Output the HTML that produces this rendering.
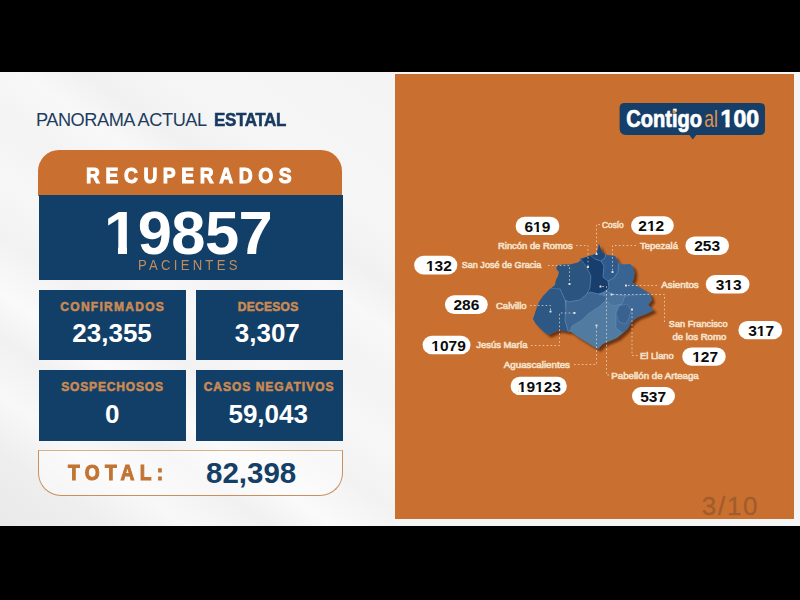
<!DOCTYPE html>
<html lang="es">
<head>
<meta charset="utf-8">
<title>Panorama Actual Estatal</title>
<style>
html,body{margin:0;padding:0;}
body{width:800px;height:600px;overflow:hidden;background:#000;position:relative;font-family:"Liberation Sans",sans-serif;}
.t{position:absolute;white-space:nowrap;line-height:1;}
#stage{position:absolute;left:0;top:72px;width:800px;height:453.5px;background:#f5f5f5;overflow:hidden;}
#streak1{position:absolute;left:0;top:0;width:395px;height:454px;
 background:linear-gradient(215deg,#f4f4f4 0%,#f6f6f6 22%,#f1f1f1 30%,#f8f8f8 36%,#f3f3f3 44%,#f7f7f7 52%,#f2f2f2 60%,#fafafa 68%,#f1f1f1 74%,#f8f8f8 82%,#eeeeee 90%,#e9e9e9 100%);}
#orange{position:absolute;left:395.3px;top:2px;width:399px;height:445px;background:#c97030;}
/* left card */
#hdr{position:absolute;left:38.3px;top:78.1px;width:304.2px;height:46px;background:#c97030;border-radius:21px 21px 0 0;}
.blue{position:absolute;background:#123f68;}
.cx{transform-origin:0 0;}
.lab{color:#cb8a52;font-weight:bold;font-size:12px;-webkit-text-stroke:0.55px #cb8a52;}
.num{color:#fff;font-weight:bold;font-size:26px;text-align:center;}
#total{position:absolute;left:37.6px;top:377.6px;width:303.4px;height:44px;background:rgba(255,255,255,0.45);border:1px solid #c9905f;border-top-color:#d9b08a;border-radius:0 0 23px 23px;box-sizing:content-box;}
</style>
</head>
<body>
<div id="stage">
  <div id="streak1"></div>
  <div id="orange"></div>

  <!-- title -->
  <div class="t" id="ttl" style="left:35.9px;top:39px;font-size:18.2px;color:#1d3d5f;letter-spacing:-0.45px;">PANORAMA ACTUAL</div>
  <div class="t cx" id="ttl2" style="left:214px;top:39px;font-size:18.2px;font-weight:bold;color:#183a5e;letter-spacing:-0.4px;transform:scaleX(0.935);-webkit-text-stroke:0.55px #183a5e;">ESTATAL</div>

  <!-- card -->
  <div id="hdr"></div>
  <div class="t cx" id="recu" style="left:85.9px;top:93.8px;font-size:21.4px;font-weight:bold;color:#fff;letter-spacing:6.2px;transform:scaleX(0.9);-webkit-text-stroke:1px #fff;">RECUPERADOS</div>

  <div class="blue" style="left:38.5px;top:123px;width:304px;height:85px;"></div>
  <div class="t" id="big" style="left:37.6px;width:301px;text-align:center;top:129.5px;font-size:61.5px;letter-spacing:-0.6px;font-weight:bold;color:#fff;">19857</div>
  <div class="blue" style="left:106.6px;top:174.4px;width:11.5px;height:8.6px;"></div>
  <div class="blue" style="left:127.1px;top:174.4px;width:10.8px;height:8.6px;"></div>
  <div class="t cx" id="pac" style="left:138px;top:186px;font-size:14.6px;color:#c48c5c;letter-spacing:3.6px;transform:scaleX(0.9);">PACIENTES</div>

  <div class="blue" style="left:38.5px;top:217.5px;width:147.5px;height:70.5px;"></div>
  <div class="blue" style="left:195.5px;top:217.5px;width:147px;height:70.5px;"></div>
  <div class="blue" style="left:38.5px;top:298px;width:147.5px;height:70.5px;"></div>
  <div class="blue" style="left:195.5px;top:298px;width:147px;height:70.5px;"></div>

  <div class="t lab cx" id="l1" style="left:60.3px;top:228.9px;letter-spacing:1.29px;">CONFIRMADOS</div>
  <div class="t num" id="n1" style="left:38.3px;width:147.5px;top:248px;">23,355</div>
  <div class="t lab cx" id="l2" style="left:237.7px;top:228.9px;letter-spacing:0.3px;">DECESOS</div>
  <div class="t num" id="n2" style="left:193.8px;width:147px;top:248px;">3,307</div>
  <div class="t lab cx" id="l3" style="left:61.2px;top:308.9px;letter-spacing:0.84px;">SOSPECHOSOS</div>
  <div class="t num" id="n3" style="left:38.5px;width:147.5px;top:329px;">0</div>
  <div class="t lab cx" id="l4" style="left:203.7px;top:308.9px;letter-spacing:1px;">CASOS NEGATIVOS</div>
  <div class="t num" id="n4" style="left:194.7px;width:147px;top:329px;">59,043</div>

  <div id="total"></div>
  <div class="t cx" id="tot" style="left:68px;top:389.6px;font-size:22.6px;font-weight:bold;color:#c27433;letter-spacing:6.25px;transform:scaleX(0.85);-webkit-text-stroke:1.1px #c27433;">TOTAL:</div>
  <div class="t" id="totn" style="left:206px;top:386px;font-size:29.5px;font-weight:bold;color:#143f67;">82,398</div>

  <div class="t" id="pg" style="left:701.8px;top:421px;font-size:26px;color:#a25c2c;letter-spacing:1.7px;-webkit-text-stroke:0.3px #a25c2c;">3/10</div>
</div>
<!--MAPBEGIN-->
<svg id="map" width="800" height="600" viewBox="0 0 800 600" style="position:absolute;left:0;top:0;font-family:'Liberation Sans',sans-serif;">
<defs><clipPath id="oc"><polygon points="599,244 601,249 603,253 607,255 615,256 617,260 620,264 624,264.5 630,264 633,267 634.5,272 634,278 632,282 637,286 644,290 650,294 652,300 648,305 654,310 646,314 638,317 632,321 628,328 623,333 617,338 610,341 603,344 598,349 594,347 586,342 578,337 571,332 565,331 559,330 555,332 548,335 542,330 536,324 533,319 536,310 539,302 543,296 549,290 555,285 556,280 558,276 559,272 556.5,269 557,265.5 563,264.5 570,264.5 578,262.5 581,260 580,258.5 586,257 592,255 596.5,253 598,249"/></clipPath>
<filter id="sh" x="-20%" y="-20%" width="150%" height="150%"><feGaussianBlur stdDeviation="1.1"/></filter></defs>
<polygon points="599,244 601,249 603,253 607,255 615,256 617,260 620,264 624,264.5 630,264 633,267 634.5,272 634,278 632,282 637,286 644,290 650,294 652,300 648,305 654,310 646,314 638,317 632,321 628,328 623,333 617,338 610,341 603,344 598,349 594,347 586,342 578,337 571,332 565,331 559,330 555,332 548,335 542,330 536,324 533,319 536,310 539,302 543,296 549,290 555,285 556,280 558,276 559,272 556.5,269 557,265.5 563,264.5 570,264.5 578,262.5 581,260 580,258.5 586,257 592,255 596.5,253 598,249" fill="#5e2a08" opacity="0.85" transform="translate(3,2.8)" filter="url(#sh)"/>
<polygon points="599,244 601,249 603,253 607,255 615,256 617,260 620,264 624,264.5 630,264 633,267 634.5,272 634,278 632,282 637,286 644,290 650,294 652,300 648,305 654,310 646,314 638,317 632,321 628,328 623,333 617,338 610,341 603,344 598,349 594,347 586,342 578,337 571,332 565,331 559,330 555,332 548,335 542,330 536,324 533,319 536,310 539,302 543,296 549,290 555,285 556,280 558,276 559,272 556.5,269 557,265.5 563,264.5 570,264.5 578,262.5 581,260 580,258.5 586,257 592,255 596.5,253 598,249" fill="#527ba2"/>
<g clip-path="url(#oc)" stroke="#7ba3cb" stroke-opacity="0.45" stroke-width="0.7" stroke-linejoin="round">
<polygon points="545,292 552,280 552,262 570,260 581,257 586,266 591,276 590,288 587,294 580,300 568,302 565,300 560,289" fill="#2b547f"/>
<polygon points="560,289 565,300 566,310 565,320 569,334 560,333 548,340 528,319 538,298 548,288" fill="#2e5884"/>
<polygon points="578,260 592,254 595,259 601,261 604,266 603,277 608,281 609,288 604,292 598,294 590,292 587,294 590,288 591,276 586,266 581,259" fill="#173e6c"/>
<polygon points="599,240 595,253 591,256 595,259 601,261 605,258 606,253 603,248" fill="#20497a"/>
<polygon points="606,252 616,253 619,260 619,264 618,272 614,278 608,281 603,277 604,266 601,261 605,258" fill="#2f5a8b"/>
<polygon points="619,262 632,261 638,272 634,282 656,294 640,297 612,294 606,291 609,288 608,281 614,278 618,272" fill="#396390"/>
<polygon points="604,292 606,291 612,294 625,296 622,304 612,306 606,300" fill="#49729d"/>
<polygon points="625,296 656,293 658,311 634,322 624,334 616,328 616,312 622,304" fill="#3f6996"/>
<polygon points="619,306 627,304 631,310 629,318 626,324 619,322 616,314" fill="#3a628f"/>
<polygon points="566,300 568,302 580,300 587,294 590,292 598,294 606,296 606,300 600,306 588,314 582,320 572,326 569,334 565,320 566,310" fill="#3d6592"/>
</g>
<g fill="none" stroke="#f5e6d8" stroke-width="1" stroke-dasharray="1.6 2.3" stroke-opacity="0.68">
<polyline points="576,245.5 588,245.5 588,267"/>
<polyline points="600,224.5 596.5,224.5 596.5,254"/>
<polyline points="548,265.5 569.5,265.5 569.5,284"/>
<polyline points="636,245.5 612.5,245.5 612.5,272"/>
<polyline points="657,285.5 626,285.5"/>
<polyline points="664.5,322 664.5,294.5 611.5,294.5"/>
<polyline points="609,375 606.5,375 606.5,286.5 600.5,286.5"/>
<polyline points="637.5,355.5 632,355.5 632,309.5"/>
<polyline points="574,364.5 596.5,364.5 596.5,325.5"/>
<polyline points="530,305.5 550.5,305.5 550.5,311.5"/>
<polyline points="531,345.5 559.5,345.5 559.5,313 574.5,313"/>
</g>
<g fill="#f4ece4" opacity="0.92">
<rect x="587" y="266" width="2" height="2" rx="0.5"/>
<rect x="595.5" y="253" width="2" height="2" rx="0.5"/>
<rect x="568.5" y="283" width="2" height="2" rx="0.5"/>
<rect x="611.5" y="271" width="2" height="2" rx="0.5"/>
<rect x="625" y="284.5" width="2" height="2" rx="0.5"/>
<rect x="610.5" y="293.5" width="2" height="2" rx="0.5"/>
<rect x="599.5" y="285.5" width="2" height="2" rx="0.5"/>
<rect x="631" y="308.5" width="2" height="2" rx="0.5"/>
<rect x="595.5" y="324.5" width="2" height="2" rx="0.5"/>
<rect x="549.5" y="310.5" width="2" height="2" rx="0.5"/>
<rect x="573.5" y="312" width="2" height="2" rx="0.5"/>
</g>
<g>
<rect x="515.6" y="216.8" width="43.8" height="18.3" rx="9.15" fill="#fff"/>
<rect x="414.2" y="255.8" width="43.1" height="18.7" rx="9.35" fill="#fff"/>
<rect x="444.9" y="295.3" width="42.9" height="18.6" rx="9.3" fill="#fff"/>
<rect x="422.6" y="335.7" width="47.9" height="18.6" rx="9.3" fill="#fff"/>
<rect x="510.6" y="376.8" width="56.2" height="18.3" rx="9.15" fill="#fff"/>
<rect x="631.1" y="216.3" width="42.7" height="18.5" rx="9.25" fill="#fff"/>
<rect x="685.4" y="236.4" width="43.6" height="18.5" rx="9.25" fill="#fff"/>
<rect x="705.8" y="275" width="43.7" height="18.4" rx="9.2" fill="#fff"/>
<rect x="738.4" y="320.9" width="43.8" height="18.4" rx="9.2" fill="#fff"/>
<rect x="682.2" y="347.4" width="43.5" height="18.3" rx="9.15" fill="#fff"/>
<rect x="632" y="387" width="43" height="18.2" rx="9.1" fill="#fff"/>
</g>
<g fill="#0c0c0c" font-weight="bold" font-size="15.5" text-anchor="middle">
<text x="537.4" y="231.5">619</text>
<text x="438.9" y="270.7">132</text>
<text x="466.4" y="310.15">286</text>
<text x="448.6" y="350.55">1079</text>
<text x="539.4" y="391.5">19123</text>
<text x="651.3" y="231.1">212</text>
<text x="707.2" y="251.2">253</text>
<text x="728.7" y="289.75">313</text>
<text x="761.1" y="335.65">317</text>
<text x="705.1" y="362.1">127</text>
<text x="653.2" y="401.65">537</text>
</g>
<g fill="#fff">
<rect x="533.84" y="229.65" width="2.75" height="2.4"/>
<rect x="539.04" y="229.65" width="2.6" height="2.4"/>
<rect x="426.72" y="268.85" width="2.75" height="2.4"/>
<rect x="431.92" y="268.85" width="2.6" height="2.4"/>
<rect x="432.11" y="348.70" width="2.75" height="2.4"/>
<rect x="437.31" y="348.70" width="2.6" height="2.4"/>
<rect x="518.61" y="389.65" width="2.75" height="2.4"/>
<rect x="523.81" y="389.65" width="2.6" height="2.4"/>
<rect x="535.84" y="389.65" width="2.75" height="2.4"/>
<rect x="541.04" y="389.65" width="2.6" height="2.4"/>
<rect x="647.74" y="229.25" width="2.75" height="2.4"/>
<rect x="652.94" y="229.25" width="2.6" height="2.4"/>
<rect x="725.14" y="287.90" width="2.75" height="2.4"/>
<rect x="730.34" y="287.90" width="2.6" height="2.4"/>
<rect x="757.54" y="333.80" width="2.75" height="2.4"/>
<rect x="762.74" y="333.80" width="2.6" height="2.4"/>
<rect x="692.92" y="360.25" width="2.75" height="2.4"/>
<rect x="698.12" y="360.25" width="2.6" height="2.4"/>
</g>
<g fill="#f6e2cc" font-size="9.8" stroke="#f6e2cc" stroke-width="0.6">
<text x="498" y="249" textLength="74.75" lengthAdjust="spacingAndGlyphs">Rincón de Romos</text>
<text x="461.75" y="268.4" textLength="79.5" lengthAdjust="spacingAndGlyphs">San José de Gracia</text>
<text x="496" y="308.5" textLength="30.6" lengthAdjust="spacingAndGlyphs">Calvillo</text>
<text x="476.25" y="348" textLength="51.25" lengthAdjust="spacingAndGlyphs">Jesús María</text>
<text x="503.75" y="368" textLength="66.25" lengthAdjust="spacingAndGlyphs">Aguascalientes</text>
<text x="602" y="228" textLength="21.75" lengthAdjust="spacingAndGlyphs">Cosío</text>
<text x="640" y="248.5" textLength="38" lengthAdjust="spacingAndGlyphs">Tepezalá</text>
<text x="661.25" y="288" textLength="37.5" lengthAdjust="spacingAndGlyphs">Asientos</text>
<text x="668.75" y="327" textLength="58.75" lengthAdjust="spacingAndGlyphs">San Francisco</text>
<text x="672.5" y="340" textLength="53.75" lengthAdjust="spacingAndGlyphs">de los Romo</text>
<text x="640" y="359" textLength="33.75" lengthAdjust="spacingAndGlyphs">El Llano</text>
<text x="611.25" y="378.6" textLength="87.5" lengthAdjust="spacingAndGlyphs">Pabellón de Arteaga</text>
</g>
<path d="M624.5,103 H760 Q765,103 765,108 V130 Q765,135 760,135 H696.2 L692.8,139.6 L689.4,135 H626 Q619.6,135 619.6,128.5 V108 Q619.6,103 624.5,103 Z" fill="#153f68"/>
<text x="626.3" y="126.5" font-size="23" font-weight="bold" fill="#fff" stroke="#fff" stroke-width="0.7" textLength="75.8" lengthAdjust="spacingAndGlyphs">Contigo</text>
<circle cx="674.2" cy="111.9" r="1.7" fill="#e08a3c"/>
<text x="704.2" y="126.5" font-size="24" fill="#e0934f" textLength="13.6" lengthAdjust="spacingAndGlyphs">al</text>
<text x="720.6" y="126.5" font-size="23" font-weight="bold" fill="#fff" stroke="#fff" stroke-width="0.7" textLength="38.4" lengthAdjust="spacingAndGlyphs">100</text>
<rect x="720.2" y="122.9" width="5.3" height="5.6" fill="#153f68"/>
<rect x="729.65" y="122.9" width="4.2" height="5.6" fill="#153f68"/>
</svg>
<!--MAPEND-->
</body>
</html>
